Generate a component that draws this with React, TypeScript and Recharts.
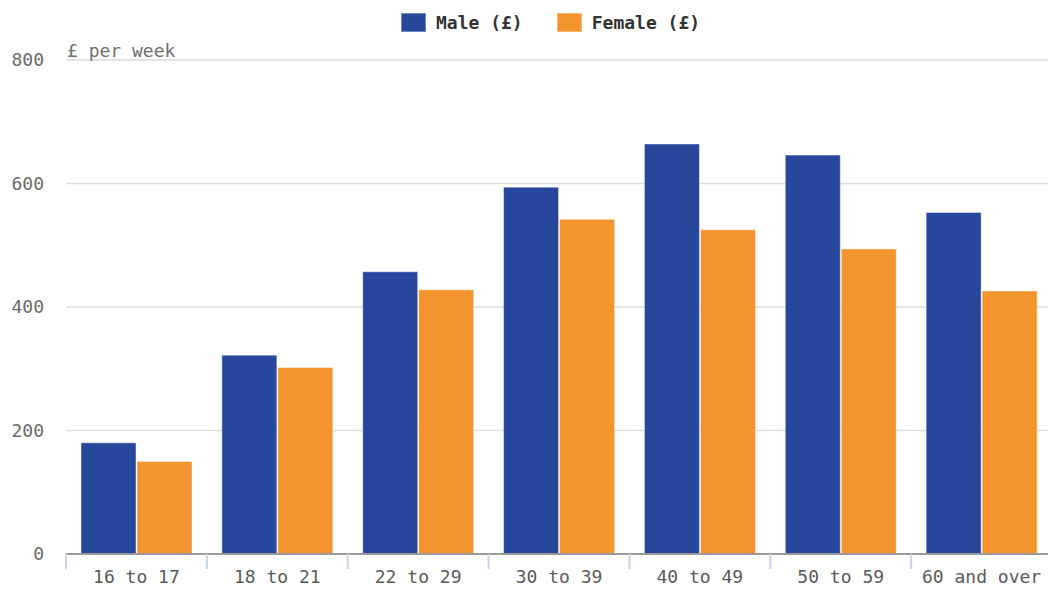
import React from 'react';
import { BarChart, Bar, XAxis, YAxis, CartesianGrid, Legend, Label } from 'recharts';

const categories = ['16 to 17', '18 to 21', '22 to 29', '30 to 39', '40 to 49', '50 to 59', '60 and over'];
const maleValues = [180, 322, 457, 594, 664, 646, 553];
const femaleValues = [150, 302, 428, 542, 525, 494, 426];
const yTicks = [0, 200, 400, 600, 800];

const data = categories.map((group, i) => ({
  group,
  male: maleValues[i],
  female: femaleValues[i],
}));

const CHART_W = 1052;
const LEFT = 66;
const band = (CHART_W - LEFT) / categories.length;
const MALE = '#27479a';
const FEMALE = '#f4942f';
const FONT = '"DejaVu Sans Mono", monospace';

const XTick = (props: any) => {
  const { x, y, payload } = props;
  const edge = x - band / 2;
  return (
    <g>
      <line x1={edge} x2={edge} y1={y} y2={y + 15} stroke="#c6d3e3" strokeWidth={2} />
      <text x={x} y={y + 29} textAnchor="middle" fill="#5a5a5a" fontSize={18} fontFamily={FONT}>
        {payload.value}
      </text>
    </g>
  );
};

const YTick = (props: any) => {
  const { x, y, payload } = props;
  return (
    <text x={x - 22} y={y + 6} textAnchor="end" fill="#6a6a6a" fontSize={18} fontFamily={FONT}>
      {payload.value}
    </text>
  );
};

const LegendBox = () => {
  const items = [
    { name: 'Male (£)', color: MALE },
    { name: 'Female (£)', color: FEMALE },
  ];
  return (
    <div style={{ display: 'flex', alignItems: 'center', gap: 34 }}>
      {items.map((it) => (
        <div key={it.name} style={{ display: 'flex', alignItems: 'center' }}>
          <span
            style={{
              display: 'inline-block',
              width: 25,
              height: 19,
              background: it.color,
              boxShadow: 'inset 0 0 0 1px rgba(255,255,255,0.35)',
              marginRight: 10,
            }}
          />
          <span style={{ fontFamily: FONT, fontWeight: 'bold', fontSize: 18, color: '#333' }}>{it.name}</span>
        </div>
      ))}
    </div>
  );
};

export default function App() {
  return (
    <div style={{ position: 'absolute', left: 0, top: 0, width: 1048, height: 589, overflow: 'hidden', background: '#fff' }}>
      <BarChart
        width={CHART_W}
        height={589}
        data={data}
        margin={{ top: 60, right: 0, bottom: 0, left: 0 }}
        barCategoryGap={15}
        barGap={1}
      >
        <CartesianGrid vertical={false} stroke="#dddddd" strokeWidth={1.5} />
        <XAxis
          dataKey="group"
          height={35}
          tickSize={0}
          tickMargin={0}
          tickLine={false}
          axisLine={{ stroke: '#9a9a9a', strokeWidth: 2 }}
          tick={<XTick />}
          interval={0}
        />
        <YAxis
          width={LEFT}
          domain={[0, 800]}
          ticks={yTicks}
          axisLine={false}
          tickLine={false}
          tickSize={0}
          tickMargin={0}
          tick={<YTick />}
        >
          <Label
            content={(p: any) => (
              <text
                x={p.viewBox.x + p.viewBox.width + 1}
                y={p.viewBox.y - 3}
                fill="#707070"
                fontSize={18}
                fontFamily={FONT}
              >
                £ per week
              </text>
            )}
          />
        </YAxis>
        <Legend
          verticalAlign="middle"
          align="center"
          layout="horizontal"
          content={<LegendBox />}
          wrapperStyle={{ top: 12, left: 401, width: 'auto' }}
        />
        <Bar dataKey="male" name="Male (£)" fill={MALE} stroke="rgba(255,255,255,0.45)" strokeWidth={1} isAnimationActive={false} />
        <Bar dataKey="female" name="Female (£)" fill={FEMALE} stroke="rgba(255,255,255,0.45)" strokeWidth={1} isAnimationActive={false} />
      </BarChart>
    </div>
  );
}
